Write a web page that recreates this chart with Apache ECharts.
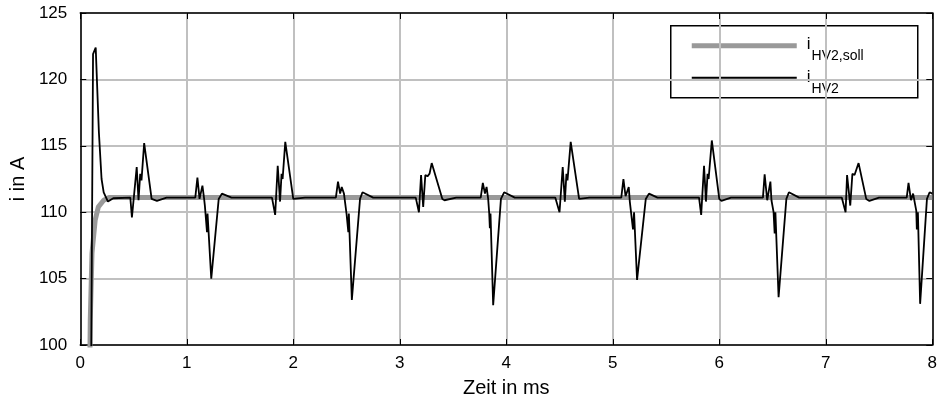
<!DOCTYPE html>
<html>
<head>
<meta charset="utf-8">
<script src="https://cdn.jsdelivr.net/npm/echarts@6/dist/echarts.min.js"></script>
<style>
  html, body { margin: 0; padding: 0; background: #fff; }
  #chart { width: 940px; height: 405px; }
</style>
</head>
<body>
<div id="chart"></div>
<script>
// Achsen
var xTicks = [0, 1, 2, 3, 4, 5, 6, 7, 8]
var yTicks = [100, 105, 110, 115, 120, 125]

// Sollwert i_HV2,soll  [t in ms, i in A]
var iSoll = [
  [0.085, 95], [0.094, 101.9], [0.11, 106.9], [0.14, 109.4], [0.17, 110.4],
  [0.22, 110.9], [0.27, 111.1], [8, 111.1]
]

// Istwert i_HV2  [t in ms, i in A]
var iIst = [
  [0.10, 95], [0.12, 121.9], [0.145, 122.4], [0.175, 116], [0.20, 112.5], [0.22, 111.5],
  [0.26, 110.8], [0.31, 111.05], [0.47, 111.1],
  [0.485, 109.6], [0.53, 113.4], [0.547, 110.9], [0.563, 112.9], [0.575, 112.4], [0.60, 115.2],
  [0.67, 111.0], [0.72, 110.85], [0.81, 111.1],
  [1.08, 111.1], [1.10, 112.6], [1.12, 111.0], [1.147, 112.0], [1.163, 111.0], [1.17, 110.5],
  [1.19, 108.5], [1.195, 109.9], [1.23, 105.0], [1.30, 111.0], [1.33, 111.4], [1.42, 111.1],
  [1.80, 111.1], [1.83, 109.8], [1.854, 113.5], [1.876, 110.8], [1.89, 112.9], [1.90, 112.5],
  [1.925, 115.3], [2.00, 111.0], [2.017, 110.85], [2.11, 111.1],
  [2.40, 111.1], [2.42, 112.3], [2.44, 111.4], [2.455, 111.9], [2.476, 111.4], [2.50, 109.9],
  [2.517, 108.5], [2.522, 109.9], [2.55, 103.4], [2.627, 111.0], [2.65, 111.5], [2.75, 111.1],
  [3.15, 111.1], [3.18, 110.0], [3.20, 112.8], [3.22, 110.4], [3.24, 112.8], [3.26, 112.7],
  [3.28, 112.9], [3.30, 113.7], [3.40, 111.0], [3.42, 110.9], [3.53, 111.1],
  [3.76, 111.1], [3.78, 112.2], [3.80, 111.4], [3.815, 111.9], [3.83, 111.0], [3.84, 109.9],
  [3.846, 108.8], [3.852, 109.9], [3.877, 103.0], [3.95, 111.0], [3.98, 111.5], [4.08, 111.1],
  [4.46, 111.1], [4.50, 110.0], [4.53, 113.4], [4.55, 110.8], [4.565, 112.9], [4.575, 112.4],
  [4.605, 115.3], [4.684, 111.0], [4.70, 110.85], [4.78, 111.1],
  [5.08, 111.1], [5.10, 112.5], [5.12, 111.2], [5.15, 111.9], [5.16, 110.8], [5.19, 108.7],
  [5.20, 110.0], [5.228, 104.9], [5.31, 111.0], [5.34, 111.4], [5.42, 111.1],
  [5.81, 111.1], [5.83, 109.8], [5.857, 113.5], [5.875, 110.8], [5.89, 112.9], [5.90, 112.5],
  [5.93, 115.4], [6.00, 111.0], [6.02, 110.85], [6.11, 111.1],
  [6.41, 111.1], [6.426, 112.85], [6.45, 110.9], [6.48, 112.3], [6.49, 110.9], [6.51, 110.0],
  [6.52, 108.4], [6.527, 110.0], [6.557, 103.6], [6.63, 111.0], [6.654, 111.5], [6.75, 111.1],
  [7.15, 111.1], [7.186, 110.0], [7.20, 112.8], [7.216, 112.9], [7.23, 110.5], [7.25, 112.9],
  [7.27, 112.8], [7.308, 113.7], [7.38, 111.0], [7.41, 110.85], [7.50, 111.1],
  [7.76, 111.1], [7.777, 112.2], [7.80, 110.9], [7.82, 111.4], [7.85, 110.1], [7.855, 108.7],
  [7.865, 110.0], [7.886, 103.1], [7.95, 111.0], [7.975, 111.5], [8.0, 111.4]
]

var FONT = "'Liberation Sans Narrow', 'Liberation Sans', Arial, sans-serif"

var chart = echarts.init(document.getElementById('chart'), null, { renderer: 'canvas' })

var gridLine = { show: true, lineStyle: { color: '#c0c0c0', width: 2 } }
var frame = { show: true, onZero: false, lineStyle: { color: '#000', width: 1.5 } }
var tick = { show: true, inside: true, length: 6, lineStyle: { color: '#000', width: 1 } }

var option = {
  animation: false,
  backgroundColor: '#fff',
  grid: { left: 80, right: 7, top: 13, bottom: 60 },
  xAxis: [
    {
      type: 'value', min: xTicks[0], max: xTicks[xTicks.length - 1], interval: 1,
      name: 'Zeit in ms', nameLocation: 'middle', nameGap: 33,
      nameTextStyle: { fontFamily: FONT, fontSize: 20, color: '#000' },
      axisLine: frame,
      axisTick: tick,
      axisLabel: { fontFamily: FONT, fontSize: 17, color: '#000', margin: 10 },
      splitLine: gridLine
    },
    {
      type: 'value', position: 'top', min: xTicks[0], max: xTicks[xTicks.length - 1], interval: 1,
      axisLine: frame, axisTick: tick,
      axisLabel: { show: false },
      splitLine: { show: false }
    }
  ],
  yAxis: [
    {
      type: 'value', min: yTicks[0], max: yTicks[yTicks.length - 1], interval: 5,
      name: 'i in A', nameLocation: 'middle', nameGap: 50,
      nameTextStyle: { fontFamily: FONT, fontSize: 20, color: '#000' },
      axisLine: frame, axisTick: tick,
      axisLabel: { fontFamily: FONT, fontSize: 17, color: '#000', margin: 13 },
      splitLine: gridLine
    },
    {
      type: 'value', position: 'right', min: yTicks[0], max: yTicks[yTicks.length - 1], interval: 5,
      axisLine: frame, axisTick: tick,
      axisLabel: { show: false },
      splitLine: { show: false }
    }
  ],
  series: [
    {
      name: 'iHV2,soll', type: 'line', data: iSoll, showSymbol: false, clip: true,
      lineStyle: { color: '#999999', width: 5 }, z: 2
    },
    {
      name: 'iHV2', type: 'line', data: iIst, showSymbol: false, clip: true,
      lineStyle: { color: '#000', width: 1.8 }, z: 3
    }
  ],
  // Legende mit Index-Schreibweise
  graphic: [
    {
      type: 'group', left: 670, top: 25, z: 100,
      children: [
        { type: 'rect', shape: { x: 0, y: 0, width: 247, height: 72 },
          style: { fill: '#fff', stroke: '#000', lineWidth: 1.5 } },
        { type: 'line', shape: { x1: 21, y1: 20, x2: 126, y2: 20 },
          style: { stroke: '#999999', lineWidth: 5 } },
        { type: 'line', shape: { x1: 21, y1: 52, x2: 126, y2: 52 },
          style: { stroke: '#000', lineWidth: 1.8 } },
        { type: 'text', x: 136, y: 10,
          style: {
            text: '{i|i}{s|HV2,soll}',
            rich: {
              i: { fontFamily: FONT, fontSize: 17, fill: '#000', verticalAlign: 'top' },
              s: { fontFamily: FONT, fontSize: 14, fill: '#000', padding: [13, 0, 0, 1] }
            }
          } },
        { type: 'text', x: 136, y: 43,
          style: {
            text: '{i|i}{s|HV2}',
            rich: {
              i: { fontFamily: FONT, fontSize: 17, fill: '#000', verticalAlign: 'top' },
              s: { fontFamily: FONT, fontSize: 14, fill: '#000', padding: [13, 0, 0, 1] }
            }
          } }
      ]
    }
  ]
}

chart.setOption(option)
</script>
</body>
</html>
